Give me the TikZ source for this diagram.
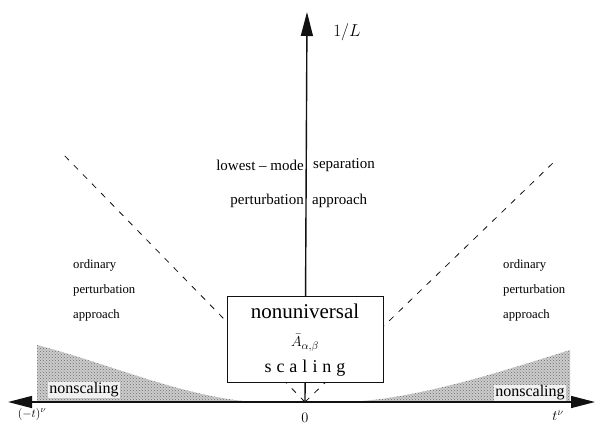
\documentclass[tikz,border=0pt]{standalone}
\usepackage{fontspec}
\setmainfont{Liberation Serif}
\usetikzlibrary{arrows.meta, patterns, positioning}
\definecolor{scanblack}{HTML}{111111}
\definecolor{stipple}{HTML}{6E6E6E}

\begin{document}
\begin{tikzpicture}[x=1pt, y=-1pt,
    axisline/.style={line width=1.4pt, scanblack},
    bigtip/.tip={Triangle[length=24pt, width=12pt]},
    regime/.style={line width=0.8pt, scanblack, dash pattern=on 6pt off 7pt},
    shaded/.style={preaction={fill=gray!40}, pattern=crosshatch dots, pattern color=stipple},
    regionlabel/.style={font=\fontsize{12.7}{25}\selectfont, align=left, anchor=west, inner sep=0pt},
    centerlabel/.style={font=\fontsize{15}{18}\selectfont, inner sep=0pt}]
  \useasboundingbox (0,0) rectangle (596,428);

  % Nichtskalierende Bereiche (gerastert)
  \fill[shaded] (37,402) -- (37,345) .. controls (110,364) and (180,396) .. (253,402) -- cycle;
  \fill[shaded] (350,402) .. controls (420,398) and (500,372) .. (570,350) -- (570,402) -- cycle;
  \node[font=\fontsize{16}{18}\selectfont, fill=gray!12, inner sep=1pt] (nsl) at (84,390) {nonscaling};
  \node[font=\fontsize{16}{18}\selectfont, fill=gray!12, inner sep=1pt] (nsr) at (530,393) {nonscaling};

  % Achsen
  \coordinate (O) at (305,402);
  \coordinate (xl) at (8,402);
  \coordinate (xr) at (595,402);
  \coordinate (ytop) at (307,12);
  \draw[axisline, bigtip-bigtip] (xl) -- (xr);
  \draw[axisline, -bigtip] (O) -- (ytop);
  \node[font=\fontsize{19}{22}\selectfont] (yl) at (347,32) {$1/L$};
  \node[font=\fontsize{13}{15}\selectfont] (tneg) at (32,414) {$(-t)^{\nu}$};
  \node[font=\fontsize{14}{16}\selectfont] (tpos) at (558,416) {$t^{\nu}$};
  \node[font=\fontsize{15}{17}\selectfont] (zero) at (305,418) {$0$};

  % Grenzen der Bereiche (gestrichelt, durch den Ursprung)
  \coordinate (dl) at (60,151);
  \coordinate (dr) at (556,160);
  \draw[regime] (O) -- (dl);
  \draw[regime] (O) -- (dr);

  % Kasten in der Mitte
  \node[draw=scanblack, line width=0.8pt, fill=white, minimum width=156pt, minimum height=86pt, inner sep=0pt] (core) at (305,339) {};
  \node[font=\fontsize{21}{24}\selectfont, inner sep=0pt] (nonuni) at (305,311) {nonuniversal};
  \node[font=\fontsize{15}{17}\selectfont, inner sep=0pt] (amp) at (305,343) {$\bar{A}_{\alpha,\beta}$};
  \node[font=\fontsize{18}{20}\selectfont, inner sep=0pt] (scal) at (305,368) {s\hspace{5pt}c\hspace{5pt}a\hspace{5pt}l\hspace{5pt}i\hspace{5pt}n\hspace{5pt}g};

  % Beschriftungen der Bereiche
  \node[centerlabel, anchor=east] (low) at (304,165) {lowest -- mode};
  \node[centerlabel, anchor=west] (sep) at (313,165) {separation};
  \node[centerlabel, anchor=east] (pert) at (304,201) {perturbation};
  \node[centerlabel, anchor=west] (appr) at (312,201) {approach};
  \node[regionlabel] (ordl) at (73,290) {ordinary\\perturbation\\approach};
  \node[regionlabel] (ordr) at (503,290) {ordinary\\perturbation\\approach};
\end{tikzpicture}
\end{document}
